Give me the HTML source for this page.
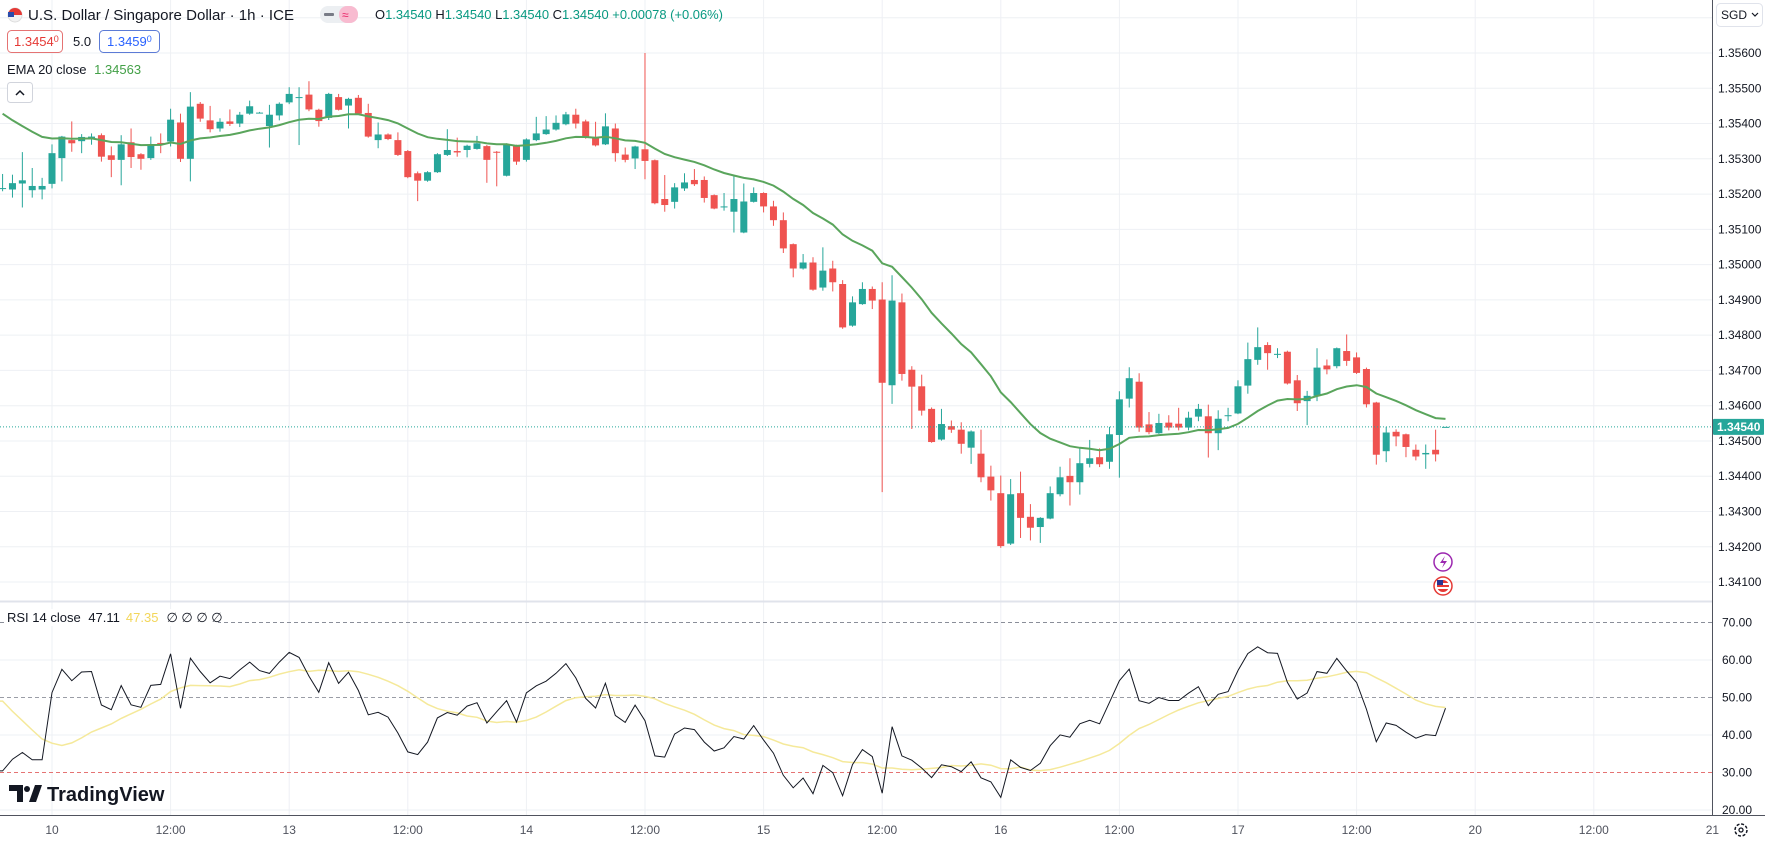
<!DOCTYPE html>
<html><head><meta charset="utf-8">
<style>
html,body{margin:0;padding:0;background:#fff;}
svg{display:block;font-family:"Liberation Sans","DejaVu Sans",sans-serif;}
</style></head>
<body>
<svg id="chart" width="1765" height="843" viewBox="0 0 1765 843" xmlns="http://www.w3.org/2000/svg">
<defs>
<clipPath id="pricePane"><rect x="0" y="0" width="1712" height="601"/></clipPath>
<clipPath id="rsiPane"><rect x="0" y="603" width="1712" height="212"/></clipPath>
</defs>
<rect x="0" y="0" width="1765" height="843" fill="#fff"/>
<g id="grid"></g>
<g id="candles" clip-path="url(#pricePane)"></g>
<g id="ema" clip-path="url(#pricePane)"></g>
<g id="rsi" clip-path="url(#rsiPane)"></g>
<g id="axes"></g>

<g>
  <circle cx="15" cy="15" r="7" fill="#f3f3f3" stroke="#ddd"/>
  <path d="M8 15 a7 7 0 0 1 14 0 z" fill="#e53935"/>
  <rect x="8" y="12" width="6" height="5" fill="#2a4bab"/>
</g>
<text x="28" y="20" font-size="15" fill="#131722" textLength="266" lengthAdjust="spacingAndGlyphs">U.S. Dollar / Singapore Dollar · 1h · ICE</text>
<g>
  <rect x="320" y="6" width="38" height="17" rx="8" fill="#eceff2"/>
  <rect x="339" y="6" width="19" height="17" rx="8" fill="#f8bbd0"/>
  <rect x="324" y="13" width="10" height="3" rx="1" fill="#787b86"/>
  <text x="342" y="19" font-size="12" fill="#e91e63">≈</text>
</g>
<text x="375" y="19" font-size="13" fill="#089981" textLength="348" lengthAdjust="spacingAndGlyphs"><tspan fill="#131722">O</tspan>1.34540 <tspan fill="#131722">H</tspan>1.34540 <tspan fill="#131722">L</tspan>1.34540 <tspan fill="#131722">C</tspan>1.34540 +0.00078 (+0.06%)</text>

<g>
  <rect x="7.5" y="30.5" width="55" height="22" rx="4" fill="#fff" stroke="#e57373"/>
  <text x="14" y="46" font-size="13" fill="#e53935">1.3454<tspan font-size="9" dy="-4">0</tspan></text>
</g>
<text x="73" y="46" font-size="13" fill="#131722">5.0</text>
<g>
  <rect x="99.5" y="30.5" width="60" height="22" rx="4" fill="#fff" stroke="#5c7bd6"/>
  <text x="107" y="46" font-size="13" fill="#2962ff">1.3459<tspan font-size="9" dy="-4">0</tspan></text>
</g>
<text x="7" y="74" font-size="13" fill="#131722">EMA 20 close <tspan fill="#43a047" dx="4">1.34563</tspan></text>
<g>
  <rect x="7.5" y="82.5" width="25" height="20" rx="3" fill="#fff" stroke="#d1d4dc"/>
  <path d="M16 95 l4 -4 l4 4" fill="none" stroke="#131722" stroke-width="1.5"/>
</g>

<g>
  <path d="M9 785 h14 v17 h-6 v-11 h-8 z" fill="#131722"/>
  <circle cx="27" cy="789" r="3" fill="#131722"/>
  <path d="M29 802 l6 -17 h7 l-6 17 z" fill="#131722"/>
  <text x="47" y="801" font-size="20" font-weight="bold" fill="#131722">TradingView</text>
</g>

<g>
  <rect x="1716.5" y="3.5" width="46" height="23" rx="4" fill="#fff" stroke="#e0e3eb"/>
  <text x="1721" y="19" font-size="12" fill="#131722">SGD</text>
  <path d="M1752 13 l3 3 l3 -3" fill="none" stroke="#131722" stroke-width="1.2"/>
</g>

<g>
  <circle cx="1443" cy="562" r="9" fill="#fff" stroke="#9c27b0" stroke-width="1.5"/>
  <path d="M1445 556 l-5 7 h4 l-2 5 l5 -7 h-4 z" fill="#9c27b0"/>
</g>
<g>
  <circle cx="1443" cy="586" r="9" fill="#fff" stroke="#e53935" stroke-width="1.5"/>
  <circle cx="1443" cy="586" r="6" fill="#e53935"/>
  <rect x="1437" y="583" width="12" height="2" fill="#fff"/>
  <rect x="1437" y="587" width="12" height="2" fill="#fff"/>
  <rect x="1437" y="580" width="6" height="5" fill="#283593"/>
</g>
<g>
  <circle cx="1741" cy="830" r="6" fill="none" stroke="#131722" stroke-width="1.5" stroke-dasharray="3 1.7"/>
  <circle cx="1741" cy="830" r="2" fill="none" stroke="#131722" stroke-width="1.3"/>
</g>
<g id="rsiLegend">
  <rect x="4" y="609" width="214" height="17" fill="#fff"/>
  <text x="7" y="622" font-size="13" fill="#131722">RSI 14 close <tspan fill="#131722" dx="4">47.11</tspan><tspan fill="#f3d65a" dx="6">47.35</tspan><tspan fill="#131722" dx="8">∅ ∅ ∅ ∅</tspan></text>
</g>
</svg>

<script>
const opens=[1.35215,1.35213,1.35230,1.35211,1.35213,1.35229,1.35302,1.35353,1.35350,1.35356,
1.35367,1.35310,1.35297,1.35347,1.35313,1.35302,1.35345,1.35349,1.35403,1.35300,
1.35456,1.35409,1.35386,1.35406,1.35400,1.35428,1.35430,1.35393,1.35423,1.35460,
1.35474,1.35482,1.35439,1.35416,1.35475,1.35451,1.35473,1.35430,1.35353,1.35369,
1.35353,1.35322,1.35259,1.35238,1.35262,1.35311,1.35322,1.35325,1.35328,1.35336,
1.35320,1.35252,1.35337,1.35297,1.35353,1.35370,1.35383,1.35398,1.35425,1.35406,
1.35362,1.35341,1.35386,1.35312,1.35301,1.35327,1.35296,1.35186,1.35178,1.35216,
1.35240,1.35240,1.35197,1.35164,1.35150,1.35091,1.35178,1.35203,1.35165,1.35126,
1.35058,1.34989,1.35006,1.34935,1.34989,1.34945,1.34827,1.34888,1.34931,1.34901,
1.34658,1.34893,1.34702,1.34655,1.34591,1.34504,1.34542,1.34532,1.34481,1.34464,
1.34399,1.34352,1.34209,1.34352,1.34285,1.34256,1.34280,1.34349,1.34401,1.34383,
1.34435,1.34454,1.34441,1.34517,1.34620,1.34668,1.34547,1.34522,1.34552,1.34549,
1.34538,1.34569,1.34570,1.34522,1.34572,1.34578,1.34657,1.34730,1.34772,1.34745,
1.34753,1.34672,1.34613,1.34628,1.34714,1.34712,1.34755,1.34737,1.34704,1.34609,
1.34471,1.34526,1.34519,1.34475,1.34462,1.34475,1.34540];
const highs=[1.35257,1.35255,1.35319,1.35274,1.35246,1.35341,1.35365,1.35406,1.35370,1.35372,
1.35372,1.35335,1.35367,1.35386,1.35316,1.35363,1.35372,1.35442,1.35428,1.35489,
1.35461,1.35450,1.35415,1.35440,1.35433,1.35465,1.35433,1.35453,1.35460,1.35503,
1.35503,1.35520,1.35442,1.35487,1.35484,1.35473,1.35481,1.35456,1.35403,1.35372,
1.35375,1.35325,1.35264,1.35265,1.35316,1.35384,1.35360,1.35340,1.35365,1.35339,
1.35322,1.35344,1.35340,1.35358,1.35419,1.35421,1.35423,1.35433,1.35442,1.35411,
1.35405,1.35429,1.35400,1.35332,1.35337,1.35600,1.35298,1.35254,1.35231,1.35259,
1.35271,1.35250,1.35199,1.35203,1.35254,1.35230,1.35219,1.35205,1.35181,1.35148,
1.35060,1.35030,1.35021,1.35049,1.35011,1.34956,1.34910,1.34950,1.34938,1.34950,
1.34970,1.34918,1.34712,1.34688,1.34595,1.34591,1.34558,1.34553,1.34530,1.34532,
1.34430,1.34402,1.34392,1.34413,1.34321,1.34284,1.34371,1.34427,1.34451,1.34482,
1.34503,1.34479,1.34540,1.34641,1.34709,1.34692,1.34582,1.34577,1.34573,1.34594,
1.34583,1.34605,1.34603,1.34587,1.34594,1.34672,1.34779,1.34822,1.34780,1.34763,
1.34756,1.34687,1.34642,1.34763,1.34731,1.34765,1.34802,1.34751,1.34708,1.34611,
1.34540,1.34533,1.34521,1.34490,1.34490,1.34532,1.34540];
const lows=[1.35208,1.35190,1.35162,1.35190,1.35185,1.35216,1.35236,1.35320,1.35316,1.35340,
1.35292,1.35248,1.35225,1.35274,1.35269,1.35297,1.35316,1.35335,1.35291,1.35236,
1.35405,1.35375,1.35377,1.35393,1.35390,1.35425,1.35429,1.35332,1.35409,1.35455,
1.35339,1.35435,1.35391,1.35410,1.35437,1.35386,1.35425,1.35360,1.35330,1.35353,
1.35308,1.35245,1.35180,1.35235,1.35260,1.35308,1.35306,1.35304,1.35326,1.35232,
1.35222,1.35250,1.35283,1.35292,1.35350,1.35368,1.35380,1.35395,1.35386,1.35357,
1.35335,1.35339,1.35292,1.35290,1.35271,1.35242,1.35171,1.35150,1.35159,1.35209,
1.35223,1.35176,1.35157,1.35153,1.35091,1.35089,1.35176,1.35148,1.35110,1.35033,
1.34964,1.34986,1.34926,1.34926,1.34924,1.34818,1.34824,1.34886,1.34874,1.34355,
1.34605,1.34671,1.34534,1.34572,1.34495,1.34501,1.34523,1.34464,1.34435,1.34383,
1.34331,1.34197,1.34205,1.34225,1.34218,1.34211,1.34278,1.34343,1.34317,1.34348,
1.34425,1.34426,1.34421,1.34396,1.34595,1.34526,1.34519,1.34520,1.34530,1.34530,
1.34530,1.34556,1.34453,1.34474,1.34556,1.34576,1.34634,1.34716,1.34702,1.34735,
1.34660,1.34585,1.34545,1.34613,1.34689,1.34706,1.34713,1.34690,1.34595,1.34433,
1.34440,1.34485,1.34454,1.34445,1.34421,1.34442,1.34540];
const closes=[1.35217,1.35231,1.35239,1.35223,1.35223,1.35316,1.35363,1.35344,1.35362,1.35363,
1.35306,1.35297,1.35341,1.35305,1.35300,1.35341,1.35343,1.35411,1.35300,1.35448,
1.35414,1.35384,1.35405,1.35399,1.35425,1.35449,1.35431,1.35425,1.35456,1.35484,
1.35475,1.35440,1.35407,1.35484,1.35439,1.35470,1.35428,1.35363,1.35369,1.35356,
1.35311,1.35248,1.35238,1.35262,1.35313,1.35325,1.35318,1.35337,1.35344,1.35297,
1.35319,1.35341,1.35292,1.35355,1.35372,1.35383,1.35402,1.35426,1.35400,1.35359,
1.35338,1.35392,1.35316,1.35297,1.35335,1.35294,1.35174,1.35169,1.35219,1.35233,
1.35228,1.35189,1.35159,1.35165,1.35186,1.35179,1.35203,1.35165,1.35126,1.35046,
1.34989,1.35006,1.34929,1.34983,1.34950,1.34822,1.34893,1.34931,1.34898,1.34665,
1.34898,1.34690,1.34654,1.34586,1.34497,1.34548,1.34532,1.34492,1.34527,1.34397,
1.34360,1.34202,1.34349,1.34282,1.34254,1.34282,1.34352,1.34397,1.34383,1.34437,
1.34451,1.34434,1.34519,1.34618,1.34678,1.34538,1.34525,1.34551,1.34538,1.34538,
1.34566,1.34591,1.34522,1.34563,1.34573,1.34655,1.34732,1.34766,1.34749,1.34747,
1.34663,1.34607,1.34628,1.34708,1.34703,1.34763,1.34727,1.34693,1.34604,1.34461,
1.34524,1.34513,1.34483,1.34456,1.34466,1.34462,1.34540];
const priceTicks=[1.357,1.356,1.355,1.354,1.353,1.352,1.351,1.350,1.349,1.348,1.347,1.346,1.345,1.344,1.343,1.342,1.341];
const rsiTicks=[70,60,50,40,30,20];
const timeLabels=['10','12:00','13','12:00','14','12:00','15','12:00','16','12:00','17','12:00','20','12:00','21'];
const emaSeed=1.35450;
const rsiSeedGain=0.00007, rsiSeedLoss=0.00016;
const rsiPrior=[72,70,68,67,67,66,45,38,35,33,32,32,31];
const lastPrice=1.34540;

const NS='http://www.w3.org/2000/svg';
function mk(tag,attrs,parent){const e=document.createElementNS(NS,tag);for(const k in attrs)e.setAttribute(k,attrs[k]);parent.appendChild(e);return e;}
const yP=p=>53+(1.356-p)*35270;
const xI=i=>52+(i-5)*9.883;
const yR=v=>622.5+(70-v)*3.75;
const gridG=document.getElementById('grid'),candG=document.getElementById('candles'),emaG=document.getElementById('ema'),rsiG=document.getElementById('rsi'),axG=document.getElementById('axes');

priceTicks.forEach(p=>{const l=mk('line',{x1:0,x2:1712,y1:yP(p),y2:yP(p),stroke:'#eef0f4','stroke-width':1},gridG);

});
[60,40,20].forEach(v=>{const l=mk('line',{x1:0,x2:1712,y1:yR(v),y2:yR(v),stroke:'#eef0f4'},gridG);

});
timeLabels.forEach((t,k)=>{const x=52+k*118.6;
const l=mk('line',{x1:x,x2:x,y1:0,y2:815,stroke:'#eef0f4'},gridG);


const tx=mk('text',{x:x,y:834,'font-size':12,fill:'#50535e','text-anchor':'middle'},axG);tx.textContent=t;

});

for(let i=0;i<closes.length;i++){
 const up=closes[i]>=opens[i];const col=up?'#26a69a':'#ef5350';const x=xI(i);
 const w=mk('line',{x1:x,x2:x,y1:yP(highs[i]),y2:yP(lows[i]),stroke:col,'stroke-width':1},candG);
 
 
 const top=yP(Math.max(opens[i],closes[i])),bot=yP(Math.min(opens[i],closes[i]));
 const b=mk('rect',{x:x-3.5,y:top,width:7,height:Math.max(1,bot-top),fill:col},candG);
 
 
}
let e=emaSeed;const k=2/21;let d='';
for(let i=0;i<closes.length;i++){e=closes[i]*k+e*(1-k);d+=(i?'L':'M')+xI(i).toFixed(1)+' '+yP(e).toFixed(1);}
const ep=mk('path',{d:d,fill:'none',stroke:'#5aa55c','stroke-width':2},emaG);



const lp=mk('line',{x1:0,x2:1712,y1:yP(lastPrice),y2:yP(lastPrice),stroke:'#26a69a','stroke-dasharray':'1 2'},axG);



let ag=rsiSeedGain,al=rsiSeedLoss;const rsi=[];
for(let i=0;i<closes.length;i++){
 if(i>0){const ch=closes[i]-closes[i-1];ag=(ag*13+Math.max(ch,0))/14;al=(al*13+Math.max(-ch,0))/14;}
 rsi.push(100-100/(1+ag/al));
}
const all=rsiPrior.concat(rsi);const ma=[];
for(let i=0;i<rsi.length;i++){let s=0;for(let j=0;j<14;j++)s+=all[i+rsiPrior.length-j];ma.push(s/14);}
[[70,'#8a8e99'],[50,'#9a9da6'],[30,'#e57373']].forEach(([v,c])=>{const l=mk('line',{x1:0,x2:1712,y1:yR(v),y2:yR(v),stroke:c,'stroke-dasharray':'4 3'},rsiG);

});
let dm='',dr='';
for(let i=0;i<rsi.length;i++){dm+=(i?'L':'M')+xI(i).toFixed(1)+' '+yR(ma[i]).toFixed(1);dr+=(i?'L':'M')+xI(i).toFixed(1)+' '+yR(rsi[i]).toFixed(1);}
const mp=mk('path',{d:'M0 '+yR(ma[0]).toFixed(1)+' L'+dm.slice(1),fill:'none',stroke:'#f5e99a','stroke-width':1.5},rsiG);


const rp=mk('path',{d:'M0 '+yR(rsi[0]).toFixed(1)+' L'+dr.slice(1),fill:'none',stroke:'#131722','stroke-width':1},rsiG);



const sep=mk('line',{x1:0,x2:1712,y1:601.5,y2:601.5,stroke:'#e0e3eb','stroke-width':2},axG);


const tb=mk('line',{x1:0,x2:1765,y1:815.5,y2:815.5,stroke:'#50535e'},axG);


const rb=mk('line',{x1:1712.5,x2:1712.5,y1:0,y2:815,stroke:'#50535e'},axG);


priceTicks.forEach(p=>{const y=yP(p);if(y<40||y>595)return;
const t=mk('text',{x:1718,y:y+4,'font-size':12,fill:'#131722'},axG);t.textContent=p.toFixed(5);

});
rsiTicks.forEach(v=>{const t=mk('text',{x:1722,y:yR(v)+4,'font-size':12,fill:'#131722'},axG);t.textContent=v.toFixed(2);

});
const pb=mk('rect',{x:1713,y:yP(lastPrice)-8,width:51,height:16,fill:'#26a69a',rx:1},axG);


const pt=mk('text',{x:1717,y:yP(lastPrice)+4,'font-size':12,fill:'#fff','font-weight':'bold'},axG);pt.textContent=lastPrice.toFixed(5);


</script>
</body></html>
